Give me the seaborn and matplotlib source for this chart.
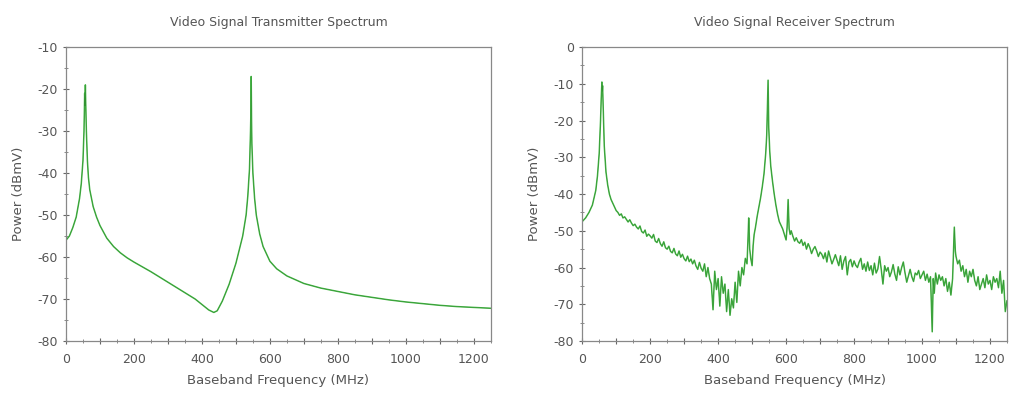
import numpy as np
import pandas as pd
import matplotlib
matplotlib.use("Agg")
import matplotlib.pyplot as plt
from matplotlib.ticker import MultipleLocator, FuncFormatter
import seaborn as sns

#   Transmitter spectrum
tx_freq = [0, 10, 20, 30, 40, 45, 50, 53, 55, 56, 57, 58, 60, 63, 66, 70, 80, 90, 100,
           120, 140, 160, 180, 200, 250, 300, 350, 380, 400, 420, 435, 445, 460, 480,
           500, 520, 530, 535, 540, 543, 544, 545, 546, 547, 550, 555, 560, 570, 580,
           600, 620, 650, 700, 750, 800, 850, 900, 950, 1000, 1050, 1100, 1150, 1200, 1250]
tx_power = [-56, -55, -53, -50.5, -46, -42.5, -37, -30, -21, -24, -19, -23, -30, -37, -41, -44, -48, -50.5, -52.5,
            -55.5, -57.5, -59, -60.2, -61.2, -63.5, -66, -68.5, -70, -71.3, -72.6, -73.2, -72.8, -70.5, -66.5,
            -61.5, -55, -50, -45.5, -39, -30, -26, -17, -27, -33, -40, -46, -50, -54.5, -57.5,
            -61, -62.8, -64.5, -66.3, -67.4, -68.2, -69, -69.6, -70.2, -70.7, -71.1, -71.5, -71.8, -72.0, -72.2]

#   Receiver spectrum
rx_freq = [0, 10, 20, 30, 40, 45, 50, 54, 56, 58, 59, 60, 62, 65, 70, 75, 80, 85, 90, 95, 100,
           105, 110, 115, 120, 125, 130, 135, 140, 145, 150, 155, 160, 165, 170, 175, 180, 185, 190, 195,
           200, 205, 210, 215, 220, 225, 230, 235, 240, 245, 250, 255, 260, 265, 270, 275, 280, 285, 290, 295,
           300, 305, 310, 315, 320, 325, 330, 335, 340, 345, 350, 355, 360, 365, 370, 375, 380, 385, 390, 395,
           400, 405, 410, 415, 420, 425, 430, 435, 440, 445, 450, 455, 460, 465, 470, 475, 480, 485, 488, 490,
           493, 496, 500, 503, 506, 510, 515, 520, 525, 530, 535, 540, 543, 545, 547, 548, 549, 552, 555, 560,
           565, 570, 575, 580, 585, 590, 595, 600, 603, 606, 609, 612, 615,
           620, 625, 630, 635, 640, 645, 650, 655, 660, 665, 670, 675, 680, 685, 690, 695,
           700, 705, 710, 715, 720, 725, 730, 735, 740, 745, 750, 755, 760, 765, 770, 775, 780, 785, 790, 795,
           800, 805, 810, 815, 820, 825, 830, 835, 840, 845, 850, 855, 860, 865, 870, 875, 880, 885, 890, 895,
           900, 905, 910, 915, 920, 925, 930, 935, 940, 945, 950, 955, 960, 965, 970, 975, 980, 985, 990, 995,
           1000, 1005, 1010, 1015, 1020, 1025, 1030, 1033, 1036, 1040, 1045, 1050, 1055, 1060, 1065, 1070,
           1075, 1080, 1085, 1090, 1093, 1095, 1098, 1100, 1105, 1110, 1115, 1120, 1125, 1130, 1135, 1140,
           1145, 1150, 1155, 1160, 1165, 1170, 1175, 1180, 1185, 1190, 1195, 1200, 1205, 1210, 1215, 1220,
           1225, 1230, 1235, 1240, 1245, 1250]
rx_power = [-47.5, -46.5, -45, -43, -39, -35, -29, -20, -14, -9.5, -12, -10.5, -17, -27, -34, -37.5, -40, -41.5, -42.5, -43.5, -44.5,
            -45.0, -45.8, -45.4, -46.5, -46.2, -46.9, -47.6, -47.0, -47.9, -48.6, -48.2, -49.0, -49.5, -48.7, -50.2, -50.6, -49.8, -51.5, -50.9,
            -51.4, -52.0, -51.0, -52.8, -53.2, -52.1, -53.5, -54.2, -53.0, -54.6, -55.0, -54.2, -55.6, -56.0, -54.8, -56.3, -56.8, -55.5, -57.2, -56.4,
            -57.6, -58.2, -56.9, -58.4, -57.7, -59.0, -58.0, -59.6, -60.5, -58.6, -60.2, -61.0, -59.0, -62.5, -60.0, -63.0, -64.5, -71.5, -61.0, -66.0,
            -63.0, -70.5, -62.5, -67.0, -64.5, -72.0, -66.0, -73.0, -68.5, -71.0, -64.0, -69.5, -61.0, -65.0, -60.0, -62.0, -57.5, -59.0, -52.0, -46.5,
            -55.0, -57.5, -59.5, -54.0, -51.0, -49.0, -46.0, -43.5, -41.0, -38.0, -34.5, -29.0, -24.0, -17.0, -9.0, -15.0, -22.0, -28.5, -32.5, -36.5,
            -40.0, -43.0, -45.5, -47.5, -48.5, -49.5, -51.0, -52.5, -49.0, -41.5, -49.5, -51.0, -50.0,
            -51.5, -52.8, -51.9, -53.0, -53.4, -52.4, -54.0, -53.1, -55.0, -53.5, -54.6, -56.2, -55.0, -54.3, -55.5, -57.0,
            -55.8, -56.4, -57.6, -56.0, -58.5, -55.5, -57.2, -59.0, -57.8, -56.5, -58.0, -59.5, -56.8, -60.5, -58.2, -57.0, -62.0, -58.5, -57.8, -59.8,
            -58.2, -59.4, -60.0, -58.5, -57.5, -60.5, -59.0, -61.0, -58.5, -60.8, -59.5, -62.0, -58.8, -61.5, -60.4, -57.0, -60.5, -64.5, -59.5, -61.0,
            -60.0, -62.5, -61.2, -59.2, -61.8, -63.5, -59.8, -62.0, -60.0, -58.5, -61.5, -64.0, -62.2, -60.5, -62.5, -63.8, -61.5, -62.0, -60.8, -63.0,
            -62.0, -61.0, -63.5, -61.8, -64.0, -62.5, -77.5, -63.0, -67.0, -61.5, -64.5, -62.0, -63.5, -62.5, -65.0, -63.0,
            -66.5, -64.0, -67.5, -63.0, -55.0, -49.0, -55.5, -57.0, -59.0, -58.0, -61.0, -59.5, -62.5, -60.5, -64.0, -61.0,
            -62.5, -60.5, -63.5, -65.0, -62.5, -66.0, -64.5, -63.0, -65.5, -62.0, -64.5, -63.5, -66.0, -62.5, -64.0, -63.0,
            -65.5, -61.0, -67.0, -63.5, -72.0, -69.0]

tx = pd.DataFrame({"freq": tx_freq, "power": tx_power})
rx = pd.DataFrame({"freq": rx_freq, "power": rx_power})

sns.set_style("white")
plt.rcParams["font.family"] = ["DejaVu Sans"]
grey = "#555555"

fig = plt.figure(figsize=(10.09, 3.94), dpi=100)
ax1 = fig.add_axes([0.0654, 0.1345, 0.421, 0.746])
ax2 = fig.add_axes([0.577, 0.1345, 0.421, 0.746])

panels = [
    (ax1, tx, "Video Signal Transmitter Spectrum", (-80, -10)),
    (ax2, rx, "Video Signal Receiver Spectrum", (-80, 0)),
]

for ax, df, title, ylim in panels:
    sns.lineplot(data=df, x="freq", y="power", ax=ax, color="#4cb84c", linewidth=1.1)
    sns.lineplot(data=df, x="freq", y="power", ax=ax, color="#1f7a1f", linewidth=0.4, alpha=0.6)
    ax.set_xlim(0, 1250)
    ax.set_ylim(*ylim)
    ax.set_title(title, fontsize=9, color=grey, pad=15)
    ax.set_xlabel("Baseband Frequency (MHz)", fontsize=9.5, color=grey, labelpad=6)
    ax.set_ylabel("Power (dBmV)", fontsize=9.5, color=grey, labelpad=9)
    ax.xaxis.set_major_locator(MultipleLocator(100))
    ax.xaxis.set_minor_locator(MultipleLocator(50))
    ax.xaxis.set_major_formatter(FuncFormatter(lambda v, p: f"{v:.0f}" if v % 200 == 0 else ""))
    ax.yaxis.set_major_locator(MultipleLocator(10))
    ax.yaxis.set_minor_locator(MultipleLocator(5))
    ax.yaxis.set_major_formatter(FuncFormatter(lambda v, p: f"{v:.0f}"))
    ax.tick_params(axis="both", which="both", bottom=True, left=True, top=False, right=False)
    ax.tick_params(axis="both", which="major", length=5, width=0.8, color="#666666",
                   labelsize=9, labelcolor=grey, direction="inout")
    ax.tick_params(axis="x", which="major", pad=6)
    ax.tick_params(axis="both", which="minor", length=3, width=0.6, color="#777777", direction="inout")
    for s in ax.spines.values():
        s.set_color("#888888")
        s.set_linewidth(0.9)

fig.savefig("out.png", dpi=100, facecolor="white")
